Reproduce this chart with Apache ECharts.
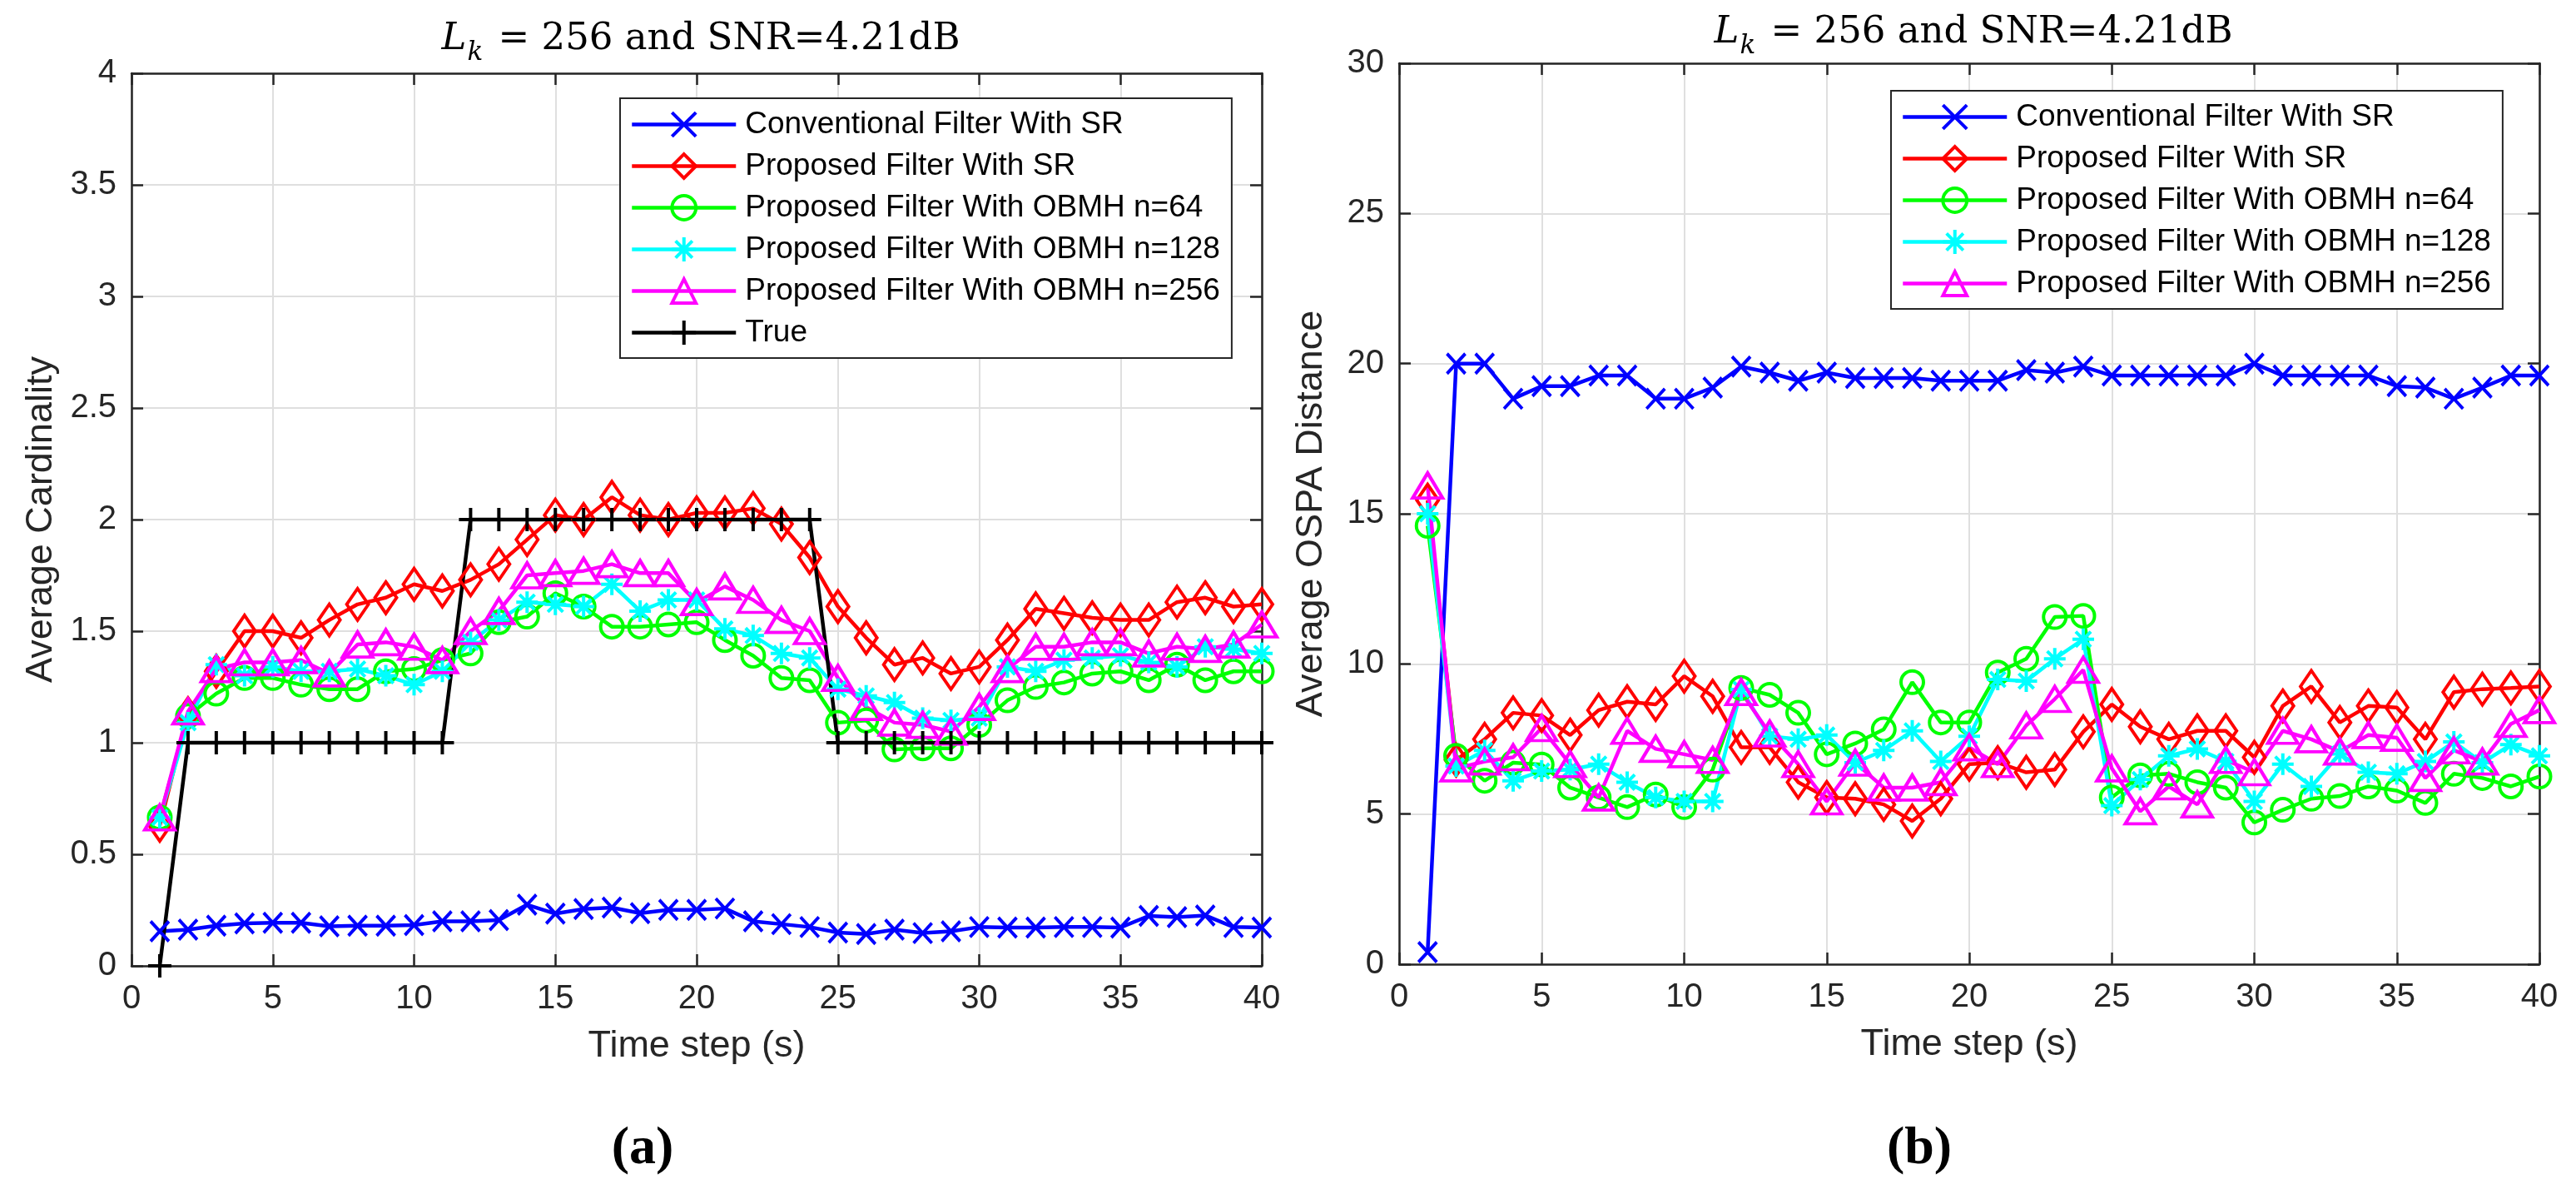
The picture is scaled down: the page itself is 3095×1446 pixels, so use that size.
<!DOCTYPE html>
<html>
<head>
<meta charset="utf-8">
<title>Average Cardinality / OSPA</title>
<script src="https://cdn.jsdelivr.net/npm/echarts@6/dist/echarts.min.js"></script>
<style>
  html, body { margin: 0; padding: 0; background: #fff; }
  #main { width: 3095px; height: 1446px; }
</style>
</head>
<body>
<div id="main"></div>
<script>
// time steps (x axis)
var steps = [1,2,3,4,5,6,7,8,9,10,11,12,13,14,15,16,17,18,19,20,
             21,22,23,24,25,26,27,28,29,30,31,32,33,34,35,36,37,38,39,40];

// (a) average cardinality
var cardConv = [0.155,0.162,0.18,0.19,0.193,0.193,0.177,0.18,0.18,0.183,0.2,0.2,0.205,0.274,0.234,0.255,0.261,0.236,0.251,0.251,
                0.257,0.2,0.187,0.174,0.149,0.143,0.162,0.147,0.155,0.174,0.172,0.172,0.174,0.174,0.172,0.224,0.218,0.226,0.174,0.172];
var cardSR   = [0.63,1.13,1.32,1.50,1.50,1.47,1.55,1.62,1.65,1.71,1.68,1.73,1.80,1.91,2.02,2.0,2.1,2.02,2.0,2.03,
                2.03,2.05,1.98,1.83,1.61,1.47,1.35,1.38,1.31,1.34,1.46,1.60,1.58,1.56,1.55,1.55,1.63,1.65,1.61,1.62];
var cardN64  = [0.665,1.12,1.22,1.29,1.29,1.26,1.24,1.24,1.32,1.33,1.37,1.40,1.54,1.565,1.67,1.61,1.52,1.52,1.53,1.54,
                1.46,1.39,1.29,1.28,1.09,1.10,0.97,0.975,0.975,1.08,1.19,1.25,1.27,1.31,1.32,1.28,1.35,1.28,1.32,1.32];
var cardN128 = [0.665,1.09,1.35,1.30,1.34,1.32,1.32,1.33,1.30,1.26,1.32,1.45,1.55,1.63,1.62,1.61,1.71,1.59,1.64,1.64,
                1.51,1.48,1.40,1.38,1.24,1.21,1.18,1.11,1.10,1.11,1.34,1.32,1.37,1.38,1.39,1.36,1.34,1.43,1.42,1.40];
var cardN256 = [0.665,1.14,1.33,1.36,1.36,1.37,1.31,1.44,1.45,1.43,1.37,1.50,1.59,1.75,1.76,1.77,1.80,1.76,1.76,1.63,
                1.70,1.64,1.55,1.50,1.29,1.16,1.09,1.08,1.05,1.16,1.33,1.43,1.43,1.45,1.45,1.40,1.43,1.42,1.44,1.53];
var cardTrue = [0,1,1,1,1,1,1,1,1,1,1,2,2,2,2,2,2,2,2,2,
                2,2,2,2,1,1,1,1,1,1,1,1,1,1,1,1,1,1,1,1];

// (b) average OSPA distance
var ospaConv = [0.4,20.0,20.0,18.83,19.25,19.25,19.6,19.6,18.83,18.83,19.2,19.9,19.7,19.43,19.7,19.52,19.52,19.52,19.43,19.43,
                19.43,19.78,19.7,19.9,19.6,19.6,19.6,19.6,19.6,20.0,19.6,19.6,19.6,19.6,19.25,19.2,18.83,19.2,19.6,19.6];
var ospaSR   = [15.45,6.8,7.49,8.37,8.28,7.63,8.46,8.74,8.65,9.59,8.92,7.22,7.22,6.06,5.55,5.51,5.32,4.77,5.51,6.66,
                6.71,6.39,6.48,7.74,8.65,7.91,7.49,7.77,7.77,6.89,8.6,9.25,8.05,8.6,8.55,7.49,9.06,9.16,9.2,9.25];
var ospaN64  = [14.6,6.94,6.11,6.71,6.65,5.88,5.55,5.23,5.65,5.23,6.48,9.2,8.97,8.37,6.99,7.35,7.82,9.39,8.05,8.05,
                9.71,10.17,11.56,11.6,5.55,6.29,6.34,6.06,5.88,4.72,5.14,5.51,5.6,5.92,5.78,5.37,6.34,6.2,5.92,6.25];
var ospaN128 = [15.0,6.6,7.12,6.11,6.43,6.48,6.66,6.06,5.55,5.42,5.42,9.15,7.59,7.49,7.63,6.71,7.12,7.77,6.75,7.59,
                9.48,9.43,10.17,10.82,5.28,6.15,6.94,7.17,6.75,5.42,6.66,5.92,7.0,6.39,6.34,6.75,7.4,6.71,7.31,6.94];
var ospaN256 = [15.94,6.52,6.75,6.89,7.86,6.66,5.55,7.77,7.17,6.99,6.8,9.06,7.68,6.66,5.42,6.71,5.88,5.88,6.06,7.22,
                6.66,7.95,8.83,9.8,6.52,5.09,5.92,5.32,6.8,6.39,7.77,7.49,7.08,7.63,7.54,6.2,7.12,6.75,8.0,8.46];

var names = ["Conventional Filter With SR", "Proposed Filter With SR", "Proposed Filter With OBMH n=64",
             "Proposed Filter With OBMH n=128", "Proposed Filter With OBMH n=256", "True"];

// matlab-ish markers
var SYM_X    = "path://M0,0L10,10M10,0L0,10";
var SYM_DIA  = "path://M5,0L10,5L5,10L0,5Z";
var SYM_STAR = "path://M5,0L5,10M0,5L10,5M1.5,1.5L8.5,8.5M8.5,1.5L1.5,8.5";
var SYM_PLUS = "path://M5,0L5,10M0,5L10,5";

var AX = "#262626";
var SANS = "Liberation Sans";
var SERIF = "DejaVu Serif";

function pairs(vals){
    return steps.map(function(s, i){ return [s, vals[i]]; });
}

function line(name, vals, color, symbol, size, axisIdx){
    return {
        name: name,
        type: "line",
        xAxisIndex: axisIdx,
        yAxisIndex: axisIdx,
        data: pairs(vals),
        symbol: symbol,
        symbolSize: size,
        lineStyle: { color: color, width: 4.5 },
        itemStyle: { color: "rgba(0,0,0,0)", borderColor: color, borderWidth: 4 },
        emphasis: { disabled: true },
        animation: false
    };
}

// bottom/left axes carry labels, top/right only ticks (box on)
function xAxes(grid, name){
    var base = { gridIndex: grid, type: "value", min: 0, max: 40, interval: 5 };
    return [
        Object.assign({}, base, {
            position: "bottom",
            name: name, nameLocation: "middle", nameGap: 74,
            nameTextStyle: { fontFamily: SANS, fontSize: 45, color: AX },
            axisLine: { onZero: false, lineStyle: { color: AX, width: 2.5 } },
            axisTick: { inside: true, length: 14, lineStyle: { color: AX, width: 2.5 } },
            axisLabel: { margin: 20, fontFamily: SANS, fontSize: 40, color: AX },
            splitLine: { show: true, lineStyle: { color: "#dfdfdf", width: 2 } }
        }),
        Object.assign({}, base, {
            position: "top",
            axisLine: { onZero: false, lineStyle: { color: AX, width: 2.5 } },
            axisTick: { inside: true, length: 14, lineStyle: { color: AX, width: 2.5 } },
            axisLabel: { show: false },
            splitLine: { show: false }
        })
    ];
}

function yAxes(grid, name, max, interval, gap){
    var base = { gridIndex: grid, type: "value", min: 0, max: max, interval: interval };
    return [
        Object.assign({}, base, {
            position: "left",
            name: name, nameLocation: "middle", nameGap: gap,
            nameTextStyle: { fontFamily: SANS, fontSize: 45, color: AX },
            axisLine: { show: true, onZero: false, lineStyle: { color: AX, width: 2.5 } },
            axisTick: { show: true, inside: true, length: 14, lineStyle: { color: AX, width: 2.5 } },
            axisLabel: { margin: 18, fontFamily: SANS, fontSize: 40, color: AX },
            splitLine: { show: true, lineStyle: { color: "#dfdfdf", width: 2 } }
        }),
        Object.assign({}, base, {
            position: "right",
            axisLine: { show: true, onZero: false, lineStyle: { color: AX, width: 2.5 } },
            axisTick: { show: true, inside: true, length: 14, lineStyle: { color: AX, width: 2.5 } },
            axisLabel: { show: false },
            splitLine: { show: false }
        })
    ];
}

function legend(left, top, data){
    return {
        orient: "vertical",
        left: left, top: top,
        data: data,
        selectedMode: false,
        itemWidth: 125, itemHeight: 36, itemGap: 13,
        padding: [13, 14, 12, 12],
        backgroundColor: "#fff",
        borderColor: AX, borderWidth: 2,
        lineStyle: { width: 4.5 },
        itemStyle: { borderWidth: 4 },
        textStyle: { fontFamily: SANS, fontSize: 37, color: "#000", padding: [0, 0, 0, 6] }
    };
}

var titleRich = {
    i: { fontFamily: SERIF, fontStyle: "italic", fontWeight: "normal", fontSize: 45, color: "#000", verticalAlign: "bottom", padding: [0, 0, 9, 0] },
    s: { fontFamily: SERIF, fontStyle: "italic", fontWeight: "normal", fontSize: 31, color: "#000", verticalAlign: "bottom", padding: [0, 4, 0, 1] },
    n: { fontFamily: SERIF, fontWeight: "normal", fontSize: 45, color: "#000", verticalAlign: "bottom", padding: [0, 0, 9, 0] }
};
var titleText = "{i|L}{s|k}{n| = 256 and SNR=4.21dB}";

var myCharts = echarts.init(document.getElementById("main"));
myCharts.setOption({
    backgroundColor: "#fff",
    animation: false,
    title: [
        { text: titleText, left: 837, top: 20, textAlign: "center", textStyle: { fontWeight: "normal", rich: titleRich } },
        { text: titleText, left: 2366, top: 12, textAlign: "center", textStyle: { fontWeight: "normal", rich: titleRich } }
    ],
    grid: [
        { left: 158, top: 88, width: 1358, height: 1072 },
        { left: 1681, top: 76, width: 1370, height: 1082 }
    ],
    xAxis: xAxes(0, "Time step (s)").concat(xAxes(1, "Time step (s)")),
    yAxis: yAxes(0, "Average Cardinality", 4, 0.5, 86).concat(yAxes(1, "Average OSPA Distance", 30, 5, 83)),
    legend: [
        legend(745, 118, names),
        legend(2272, 109, names.slice(0, 5))
    ],
    series: [
        line(names[0], cardConv, "#0000ff", SYM_X, [22, 24], 0),
        line(names[1], cardSR, "#ff0000", SYM_DIA, [26, 38], 0),
        line(names[2], cardN64, "#00ff00", "circle", 27, 0),
        line(names[3], cardN128, "#00ffff", SYM_STAR, 26, 0),
        line(names[4], cardN256, "#ff00ff", "triangle", [36, 30], 0),
        line(names[5], cardTrue, "#000000", SYM_PLUS, 28, 0),

        line(names[0], ospaConv, "#0000ff", SYM_X, [22, 24], 2),
        line(names[1], ospaSR, "#ff0000", SYM_DIA, [26, 38], 2),
        line(names[2], ospaN64, "#00ff00", "circle", 27, 2),
        line(names[3], ospaN128, "#00ffff", SYM_STAR, 26, 2),
        line(names[4], ospaN256, "#ff00ff", "triangle", [36, 30], 2)
    ],
    graphic: [
        { type: "text", x: 772, y: 1380,
          style: { text: "(a)", font: "bold 64px 'Liberation Serif'", fill: "#000", align: "center", verticalAlign: "middle", textAlign: "center", textVerticalAlign: "middle" } },
        { type: "text", x: 2306, y: 1380,
          style: { text: "(b)", font: "bold 64px 'Liberation Serif'", fill: "#000", align: "center", verticalAlign: "middle", textAlign: "center", textVerticalAlign: "middle" } }
    ]
});
</script>
</body>
</html>
